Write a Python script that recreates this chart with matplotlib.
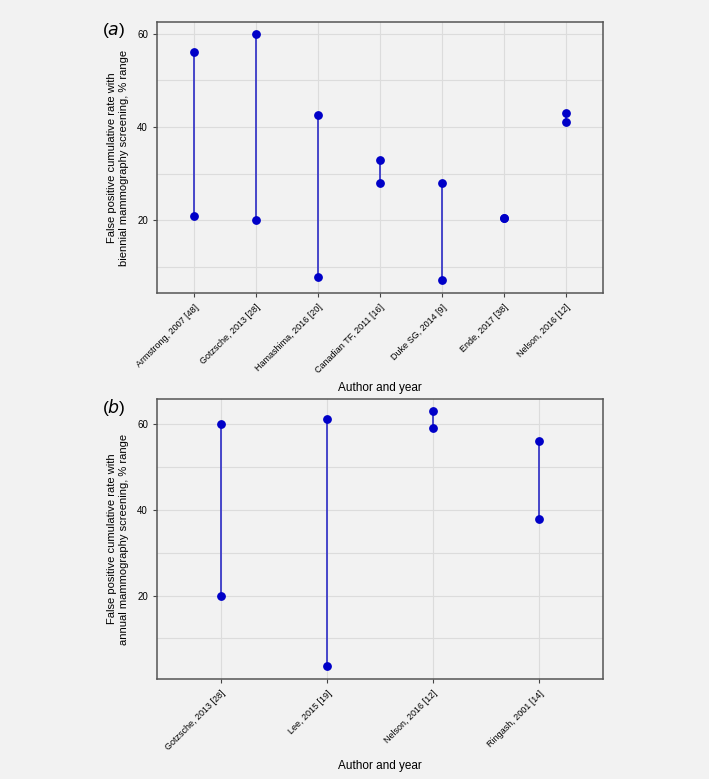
import numpy as np
import matplotlib.pyplot as plt
from matplotlib.ticker import MultipleLocator

plt.rcParams['font.family'] = ['Liberation Sans', 'DejaVu Sans']

# (a) biennial screening
studies_a = ["Armstrong, 2007 [48]", "Gotzsche, 2013 [28]", "Hamashima, 2016 [20]",
             "Canadian TF, 2011 [16]", "Duke SG, 2014 [9]", "Ende, 2017 [38]",
             "Nelson, 2016 [12]"]
low_a = [21, 20, 7.9, 28, 7.1, 20.5, 41]
high_a = [56, 60, 42.5, 33, 28, 20.5, 43]

# (b) annual screening
studies_b = ["Gotzsche, 2013 [28]", "Lee, 2015 [19]", "Nelson, 2016 [12]", "Ringash, 2001 [14]"]
low_b = [20, 3.6, 59.1, 38]
high_b = [60, 61.3, 63, 56]

bg = "#f2f2f2"
fig = plt.figure(figsize=(7.09, 7.79), dpi=100, facecolor=bg)


def draw_panel(ax, names, lo, hi, ylim, ylabel, tag, xlab_y):
    ax.set_facecolor(bg)
    x = np.arange(len(names))
    ax.vlines(x, lo, hi, color="#3a3ac8", linewidth=1.3, zorder=2)
    ax.scatter(x, lo, s=28, color="#0000c8", zorder=3)
    ax.scatter(x, hi, s=28, color="#0000c8", zorder=3)
    ax.set_xlim(-0.6, len(names) - 0.4)
    ax.set_ylim(*ylim)
    ax.yaxis.set_major_locator(MultipleLocator(20))
    ax.yaxis.set_minor_locator(MultipleLocator(10))
    ax.grid(which="both", color="#dcdcdc", linewidth=0.8, zorder=0)
    ax.set_axisbelow(True)
    ax.set_xticks(x)
    ax.set_xticklabels(names, rotation=45, ha="right", rotation_mode="anchor", fontsize=6.5)
    ax.tick_params(axis="y", labelsize=7, length=3, color="#444444")
    ax.tick_params(axis="x", length=3, color="#444444", pad=4)
    ax.tick_params(which="minor", length=0)
    for sp in ax.spines.values():
        sp.set_color("#555555")
        sp.set_linewidth(1.1)
    ax.set_xlabel("Author and year", fontsize=8.5)
    ax.xaxis.set_label_coords(0.5, xlab_y)
    ax.set_ylabel(ylabel, fontsize=8, labelpad=6, linespacing=1.25)
    ax.text(-0.123, 0.97, "(" + tag + ")", transform=ax.transAxes, fontsize=12.5,
            ha="left", va="center")


ax_a = fig.add_axes([0.2214, 0.6239, 0.6291, 0.3479])
draw_panel(ax_a, studies_a, low_a, high_a, (4.4, 62.5),
           "False positive cumulative rate with\nbiennial mammography screening, % range",
           "$\\it{a}$", -0.33)

ax_b = fig.add_axes([0.2214, 0.1284, 0.6291, 0.3594])
draw_panel(ax_b, studies_b, low_b, high_b, (0.55, 65.9),
           "False positive cumulative rate with\nannual mammography screening, % range",
           "$\\it{b}$", -0.29)

fig.savefig("out.png", dpi=100, facecolor=bg)
